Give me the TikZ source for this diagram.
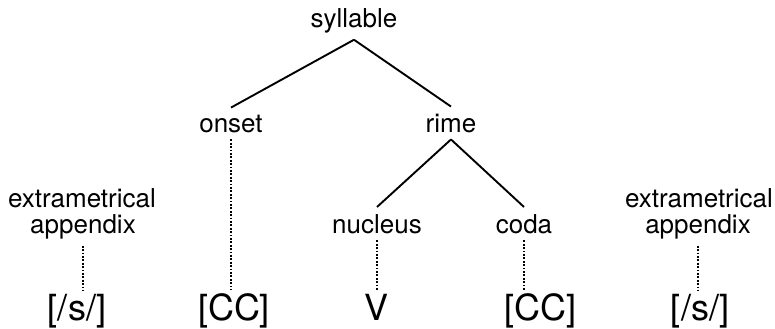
\documentclass[tikz,border=0pt]{standalone}
\usepackage{fontspec}
\setmainfont{TeX Gyre Heros}
\begin{document}
\begin{tikzpicture}[x=0.5pt,y=-0.5pt,
  lab/.style={anchor=base,font=\fontsize{13}{13}\selectfont,inner sep=3.33pt},
  big/.style={anchor=base,font=\fontsize{18}{20}\selectfont,inner sep=3.33pt},
  branch/.style={line width=0.95pt},
  assoc/.style={line width=1.1pt,dash pattern=on 0.9pt off 0.8pt,shorten >=-2pt}]
\useasboundingbox (0,0) rectangle (775,328);
\node[lab] (syl) at (354,27) {syllable};
\node[lab] (onset) at (231,132) {onset};
\node[lab] (rime) at (451,132) {rime};
\node[lab] (nuc) at (377,233) {nucleus};
\node[lab] (coda) at (524,233) {coda};
\node[lab] (extLa) at (82,207) {extrametrical};
\node[lab] (extL) at (83,233) {appendix};
\node[lab] (extRa) at (699,207) {extrametrical};
\node[lab] (extR) at (698,233) {appendix};
\node[big] (sL) at (77,320) {[/s/]};
\node[big] (ccL) at (234,320) {[CC]};
\node[big] (v) at (376,320) {V};
\node[big] (ccR) at (540,320) {[CC]};
\node[big] (sR) at (700,320) {[/s/]};
\draw[branch] (syl.south) -- (onset.north);
\draw[branch] (syl.south) -- (rime.north);
\draw[branch] (rime.south) -- (nuc.north);
\draw[branch] (rime.south) -- (coda.north);
\draw[assoc] (extL.south) -- (extL.south |- sL.north);
\draw[assoc] (onset.south) -- (onset.south |- ccL.north);
\draw[assoc] (nuc.south) -- (nuc.south |- v.north);
\draw[assoc] (coda.south) -- (coda.south |- ccR.north);
\draw[assoc] (extR.south) -- (extR.south |- sR.north);
\end{tikzpicture}
\end{document}
